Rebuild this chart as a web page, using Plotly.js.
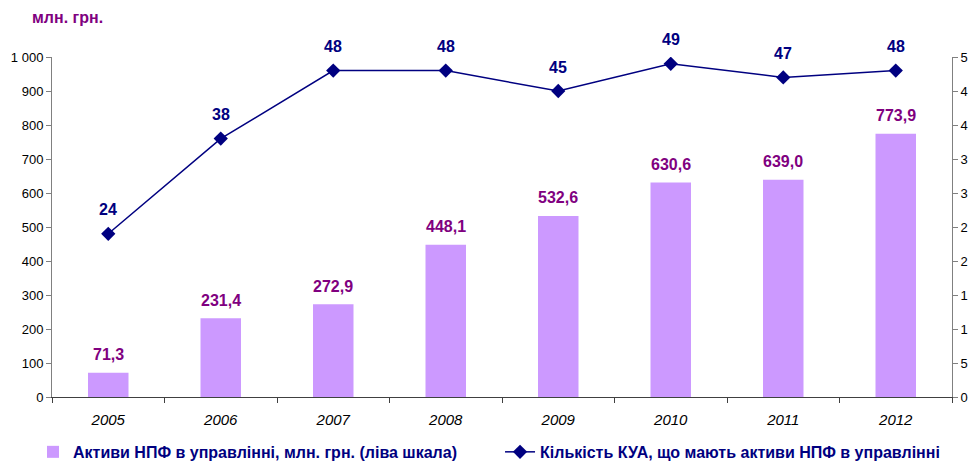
<!DOCTYPE html>
<html><head><meta charset="utf-8">
<script src="https://cdn.plot.ly/plotly-3.0.1.min.js"></script>
<style>body{margin:0;padding:0;background:#fff}#chart{width:970px;height:464px}</style>
</head><body><div id="chart"></div>
<script>
const years = ['2005','2006','2007','2008','2009','2010','2011','2012'];
const assets = [71.3, 231.4, 272.9, 448.1, 532.6, 630.6, 639.0, 773.9];
const kuaCount = [24, 38, 48, 48, 45, 49, 47, 48];
const leftTicks = [0,100,200,300,400,500,600,700,800,900,1000];
const rightTicks = [0,5,10,15,20,25,30,35,40,45,50];
const rightTickText = ['0','5','1','1','2','2','3','3','4','4','5'];
const barName = 'Активи НПФ в управлінні, млн. грн. (ліва шкала)';
const lineName = 'Кількість КУА, що мають активи НПФ в управлінні';
const unitLabel = 'млн. грн.';

const FONT = 'Liberation Sans, Arial, sans-serif';
const barTrace = {
  type:'bar', x:years, y:assets, name:barName, width:0.36, legend:'legend',
  marker:{color:'#CC99FF'}, yaxis:'y', hoverinfo:'skip'
};
const lineTrace = {
  type:'scatter', mode:'lines+markers', x:years, y:kuaCount, name:lineName, yaxis:'y2', legend:'legend2',
  line:{color:'#000080', width:1.5}, marker:{symbol:'diamond', size:11, color:'#000080'}, hoverinfo:'skip'
};
const annotations = [];
years.forEach((yr,i)=>{
  annotations.push({x:i, y:assets[i], xref:'x', yref:'y', text:assets[i].toFixed(1).replace('.',','),
    showarrow:false, yshift:18, font:{family:FONT, size:16, color:'#800080', weight:'bold'}});
  annotations.push({x:i, y:kuaCount[i], xref:'x', yref:'y2', text:String(kuaCount[i]),
    showarrow:false, yshift:24, font:{family:FONT, size:16, color:'#000080', weight:'bold'}});
});
annotations.push({xref:'paper', yref:'paper', x:-0.024, y:1.0, yshift:40, xanchor:'left', yanchor:'middle',
  text:unitLabel, showarrow:false, font:{family:FONT, size:16, color:'#800080', weight:'bold'}});

const legFont = {family:FONT, size:16, color:'#000080', weight:'bold'};
const layout = {
  width:970, height:464, margin:{l:52, r:18, t:57, b:67},
  paper_bgcolor:'#fff', plot_bgcolor:'#fff', separators:', ',
  font:{family:FONT, color:'#000'},
  showlegend:true,
  legend:{orientation:'h', xref:'container', yref:'container', x:0.034, y:0.026, xanchor:'left', yanchor:'middle',
    font:legFont, bgcolor:'rgba(0,0,0,0)'},
  legend2:{orientation:'h', xref:'container', yref:'container', x:0.5155, y:0.026, xanchor:'left', yanchor:'middle',
    font:legFont, bgcolor:'rgba(0,0,0,0)'},
  xaxis:{type:'category', range:[-0.5,7.5], autorange:false, showline:true, linecolor:'#404040', linewidth:1, ticks:'outside', ticklen:5, tickcolor:'#404040',
    tickson:'boundaries', showgrid:false, zeroline:false, ticklabelstandoff:9, tickfont:{family:FONT, size:15, style:'italic', color:'#000'}},
  yaxis:{range:[0,1000], autorange:false, tickvals:leftTicks, tickformat:',d', showline:true, linecolor:'#808080', ticks:'outside', ticklen:5,
    tickcolor:'#808080', showgrid:false, zeroline:false, tickfont:{family:FONT, size:13, color:'#000'}},
  yaxis2:{range:[0,50], autorange:false, overlaying:'y', side:'right', tickvals:rightTicks, ticktext:rightTickText, showline:true,
    linecolor:'#808080', ticks:'outside', ticklen:5, tickcolor:'#808080', showgrid:false, zeroline:false,
    tickfont:{family:FONT, size:13, color:'#000'}},
  annotations:annotations
};
Plotly.newPlot('chart', [barTrace, lineTrace], layout, {displayModeBar:false, staticPlot:true});
</script></body></html>
